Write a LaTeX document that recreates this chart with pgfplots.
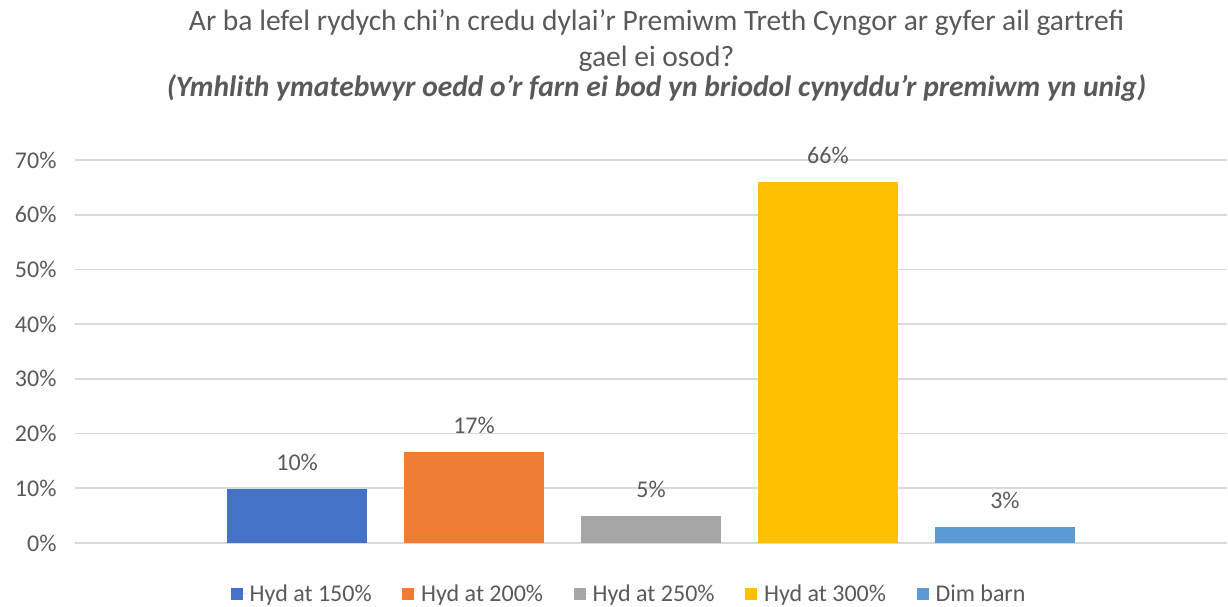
\documentclass[border=0pt]{standalone}
\usepackage{fontspec}
\setmainfont{Carlito}
\usepackage{pgfplots}
\pgfplotsset{compat=1.18}
\definecolor{cA}{HTML}{4472C4}
\definecolor{cB}{HTML}{ED7D31}
\definecolor{cC}{HTML}{A5A5A5}
\definecolor{cD}{HTML}{FFC000}
\definecolor{cE}{HTML}{5B9BD5}
\definecolor{txt}{HTML}{595959}
\definecolor{gridc}{HTML}{D9D9D9}
\begin{document}
\begin{tikzpicture}[x=1pt,y=1pt]
\path[use as bounding box] (-75,-63) rectangle (1153,543);
\begin{axis}[
  at={(0,0)}, anchor=south west,
  scale only axis, width=1152pt, height=383pt,
  xmin=-0.255, xmax=6.255, ymin=0, ymax=70,
  ytick={0,10,...,70}, xtick=\empty,
  ybar, bar width=0.788, bar shift=0pt,
  axis line style={draw=none}, major tick length=0pt,
  ymajorgrids, grid style={color=gridc, line width=1.6pt},
  /pgf/number format/assume math mode=true,
  yticklabel={\pgfmathprintnumber{\tick}\%},
  yticklabel style={font=\fontsize{24}{28}\selectfont, text=txt, xshift=-15pt},
  nodes near coords={\pgfmathprintnumber[fixed,precision=0]{\pgfplotspointmeta}\%},
  nodes near coords style={font=\fontsize{24}{28}\selectfont, text=txt, anchor=base, yshift=18.5pt},
  legend style={at={(0.481,-0.133)}, anchor=center, draw=none, fill=none,
    font=\fontsize{24}{28}\selectfont, text=txt, legend columns=-1,
    /tikz/every even column/.style={column sep=28.5pt}},
  legend image code/.code={\fill[#1,draw=none] (0pt,-6pt) rectangle (12pt,6pt); \path (0pt,0pt) -- (17pt,0pt);},
]
\addplot[fill=cA, draw=none] coordinates {(1,9.8)};
\addplot[fill=cB, draw=none] coordinates {(2,16.6)};
\addplot[fill=cC, draw=none] coordinates {(3,4.85)};
\addplot[fill=cD, draw=none] coordinates {(4,66.0)};
\addplot[fill=cE, draw=none] coordinates {(5,2.9)};
\legend{Hyd at 150\%, Hyd at 200\%, Hyd at 250\%, Hyd at 300\%, Dim barn}
\end{axis}
\node[anchor=base, text=txt, font=\fontsize{29.5}{34}\selectfont] at (581.5,512) {Ar ba lefel rydych chi’n credu dylai’r Premiwm Treth Cyngor ar gyfer ail gartrefi};
\node[anchor=base, text=txt, font=\fontsize{29.5}{34}\selectfont] at (581.5,476) {gael ei osod?};
\node[anchor=base, text=txt, font=\fontsize{29.5}{34}\selectfont\bfseries\itshape] at (581.5,446) {(Ymhlith ymatebwyr oedd o'r farn ei bod yn briodol cynyddu'r premiwm yn unig)};
\end{tikzpicture}
\end{document}
